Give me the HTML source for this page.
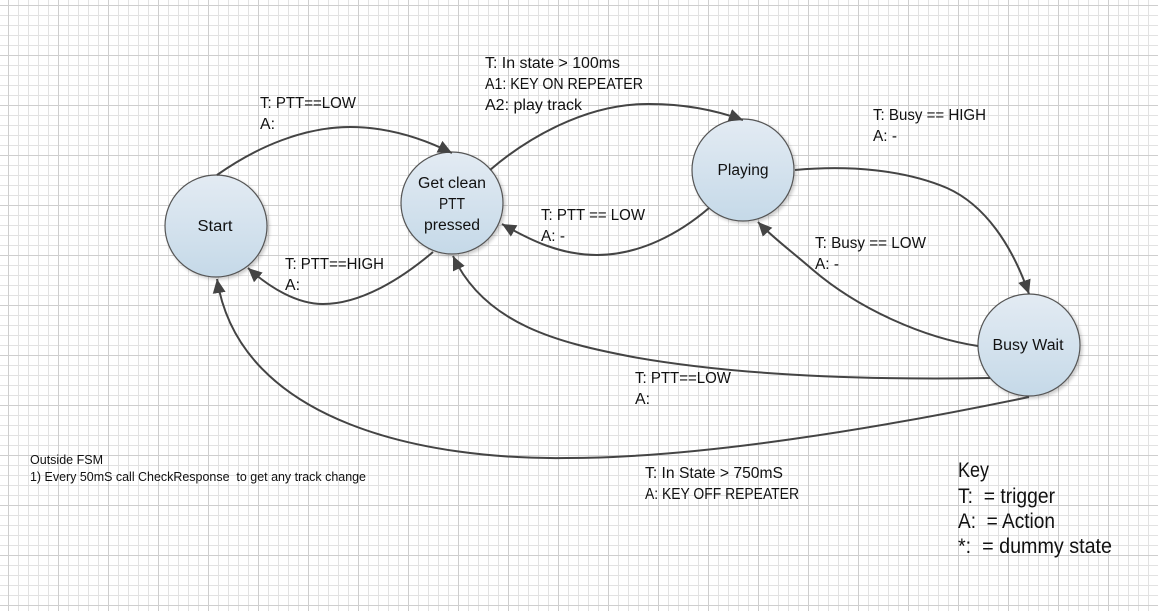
<!DOCTYPE html>
<html>
<head>
<meta charset="utf-8">
<style>
html,body{margin:0;padding:0;background:#fff;width:1158px;height:611px;overflow:hidden}
svg{display:block}
text{font-family:"Liberation Sans",sans-serif;font-size:15.5px;fill:#111}
.n{text-anchor:middle}
.s{font-size:12.5px}
.k{font-size:21px}
.e{fill:none;stroke:#444;stroke-width:2}
.c{fill:url(#g);stroke:#555;stroke-width:1.2}
</style>
</head>
<body>
<svg width="1158" height="611" viewBox="0 0 1158 611" xmlns="http://www.w3.org/2000/svg">
<defs>
<linearGradient id="g" x1="0" y1="0" x2="0" y2="1"><stop offset="0" stop-color="#e3ebf3"/><stop offset="1" stop-color="#c5d9e8"/></linearGradient>
<pattern id="minor" x="8" y="5" width="10" height="10" patternUnits="userSpaceOnUse"><path d="M0.5 0V10M0 0.5H10" stroke="#e2e2e2" stroke-width="1" fill="none"/></pattern>
<pattern id="major" x="8" y="5" width="50" height="50" patternUnits="userSpaceOnUse"><path d="M0.5 0V50M0 0.5H50" stroke="#cecece" stroke-width="1" fill="none"/></pattern>
<filter id="sh" x="-20%" y="-20%" width="150%" height="150%"><feDropShadow dx="2" dy="2" stdDeviation="1.5" flood-color="#000" flood-opacity="0.2"/></filter>
<marker id="a" markerUnits="userSpaceOnUse" markerWidth="18" markerHeight="16" refX="14" refY="7" orient="auto"><path d="M0 0.5L14 7L0 13.5Z" fill="#444"/></marker>
</defs>
<rect width="1158" height="611" fill="#fff"/>
<rect width="1158" height="611" fill="url(#minor)"/>
<rect width="1158" height="611" fill="url(#major)"/>

<circle class="c" cx="216" cy="226" r="51" filter="url(#sh)"/>
<circle class="c" cx="452" cy="203" r="51" filter="url(#sh)"/>
<circle class="c" cx="743" cy="170" r="51" filter="url(#sh)"/>
<circle class="c" cx="1029" cy="345" r="51" filter="url(#sh)"/>

<path class="e" marker-end="url(#a)" d="M217 175C258 146 305 127 350 127C385 127 420 137 452 153"/>
<path class="e" marker-end="url(#a)" d="M490 170C525 140 585 103 650 104C685 104 715 110 743 120"/>
<path class="e" marker-end="url(#a)" d="M795 170C850 165 905 170 947 188C985 205 1012 245 1029 294"/>
<path class="e" marker-end="url(#a)" d="M709 208C680 233 640 255 597 255C560 255 530 240 502 224"/>
<path class="e" marker-end="url(#a)" d="M978 346C925 338 860 310 813 270C790 250 772 237 758 222"/>
<path class="e" marker-end="url(#a)" d="M433 252C400 280 360 304 323 304C297 304 270 288 248 268"/>
<path class="e" marker-end="url(#a)" d="M990 378C870 380 740 376 633 357C560 343 485 325 453 256"/>
<path class="e" marker-end="url(#a)" d="M1029 397C880 428 700 458 567 458C430 460 240 425 217 279"/>

<text class="n" x="215" y="231" textLength="35" lengthAdjust="spacingAndGlyphs">Start</text>
<text class="n" x="452" y="188" textLength="68" lengthAdjust="spacingAndGlyphs">Get clean</text>
<text class="n" x="452" y="209" textLength="26" lengthAdjust="spacingAndGlyphs">PTT</text>
<text class="n" x="452" y="230" textLength="56" lengthAdjust="spacingAndGlyphs">pressed</text>
<text class="n" x="743" y="175" textLength="51" lengthAdjust="spacingAndGlyphs">Playing</text>
<text class="n" x="1028" y="350" textLength="71" lengthAdjust="spacingAndGlyphs">Busy Wait</text>

<text x="260" y="108" textLength="96" lengthAdjust="spacingAndGlyphs">T: PTT==LOW</text>
<text x="260" y="129" textLength="15" lengthAdjust="spacingAndGlyphs">A:</text>
<text x="285" y="269" textLength="99" lengthAdjust="spacingAndGlyphs">T: PTT==HIGH</text>
<text x="285" y="290" textLength="15" lengthAdjust="spacingAndGlyphs">A:</text>
<text x="485" y="68" textLength="135" lengthAdjust="spacingAndGlyphs">T: In state &gt; 100ms</text>
<text x="485" y="89" textLength="158" lengthAdjust="spacingAndGlyphs">A1: KEY ON REPEATER</text>
<text x="485" y="110" textLength="97" lengthAdjust="spacingAndGlyphs">A2: play track</text>
<text x="541" y="220" textLength="104" lengthAdjust="spacingAndGlyphs">T: PTT == LOW</text>
<text x="541" y="241" textLength="24" lengthAdjust="spacingAndGlyphs">A: -</text>
<text x="873" y="120" textLength="113" lengthAdjust="spacingAndGlyphs">T: Busy == HIGH</text>
<text x="873" y="141" textLength="24" lengthAdjust="spacingAndGlyphs">A: -</text>
<text x="815" y="248" textLength="111" lengthAdjust="spacingAndGlyphs">T: Busy == LOW</text>
<text x="815" y="269" textLength="24" lengthAdjust="spacingAndGlyphs">A: -</text>
<text x="635" y="383" textLength="96" lengthAdjust="spacingAndGlyphs">T: PTT==LOW</text>
<text x="635" y="404" textLength="15" lengthAdjust="spacingAndGlyphs">A:</text>
<text x="645" y="478" textLength="138" lengthAdjust="spacingAndGlyphs">T: In State &gt; 750mS</text>
<text x="645" y="499" textLength="154" lengthAdjust="spacingAndGlyphs">A: KEY OFF REPEATER</text>

<text class="s" x="30" y="464" textLength="73" lengthAdjust="spacingAndGlyphs">Outside FSM</text>
<text class="s" x="30" y="481" textLength="336" lengthAdjust="spacingAndGlyphs">1) Every 50mS call CheckResponse&#160; to get any track change</text>

<text class="k" x="958" y="477" textLength="31" lengthAdjust="spacingAndGlyphs">Key</text>
<text class="k" x="958" y="503" textLength="97" lengthAdjust="spacingAndGlyphs">T:&#160; = trigger</text>
<text class="k" x="958" y="528" textLength="97" lengthAdjust="spacingAndGlyphs">A:&#160; = Action</text>
<text class="k" x="958" y="553" textLength="154" lengthAdjust="spacingAndGlyphs">*:&#160; = dummy state</text>
</svg>
</body>
</html>
